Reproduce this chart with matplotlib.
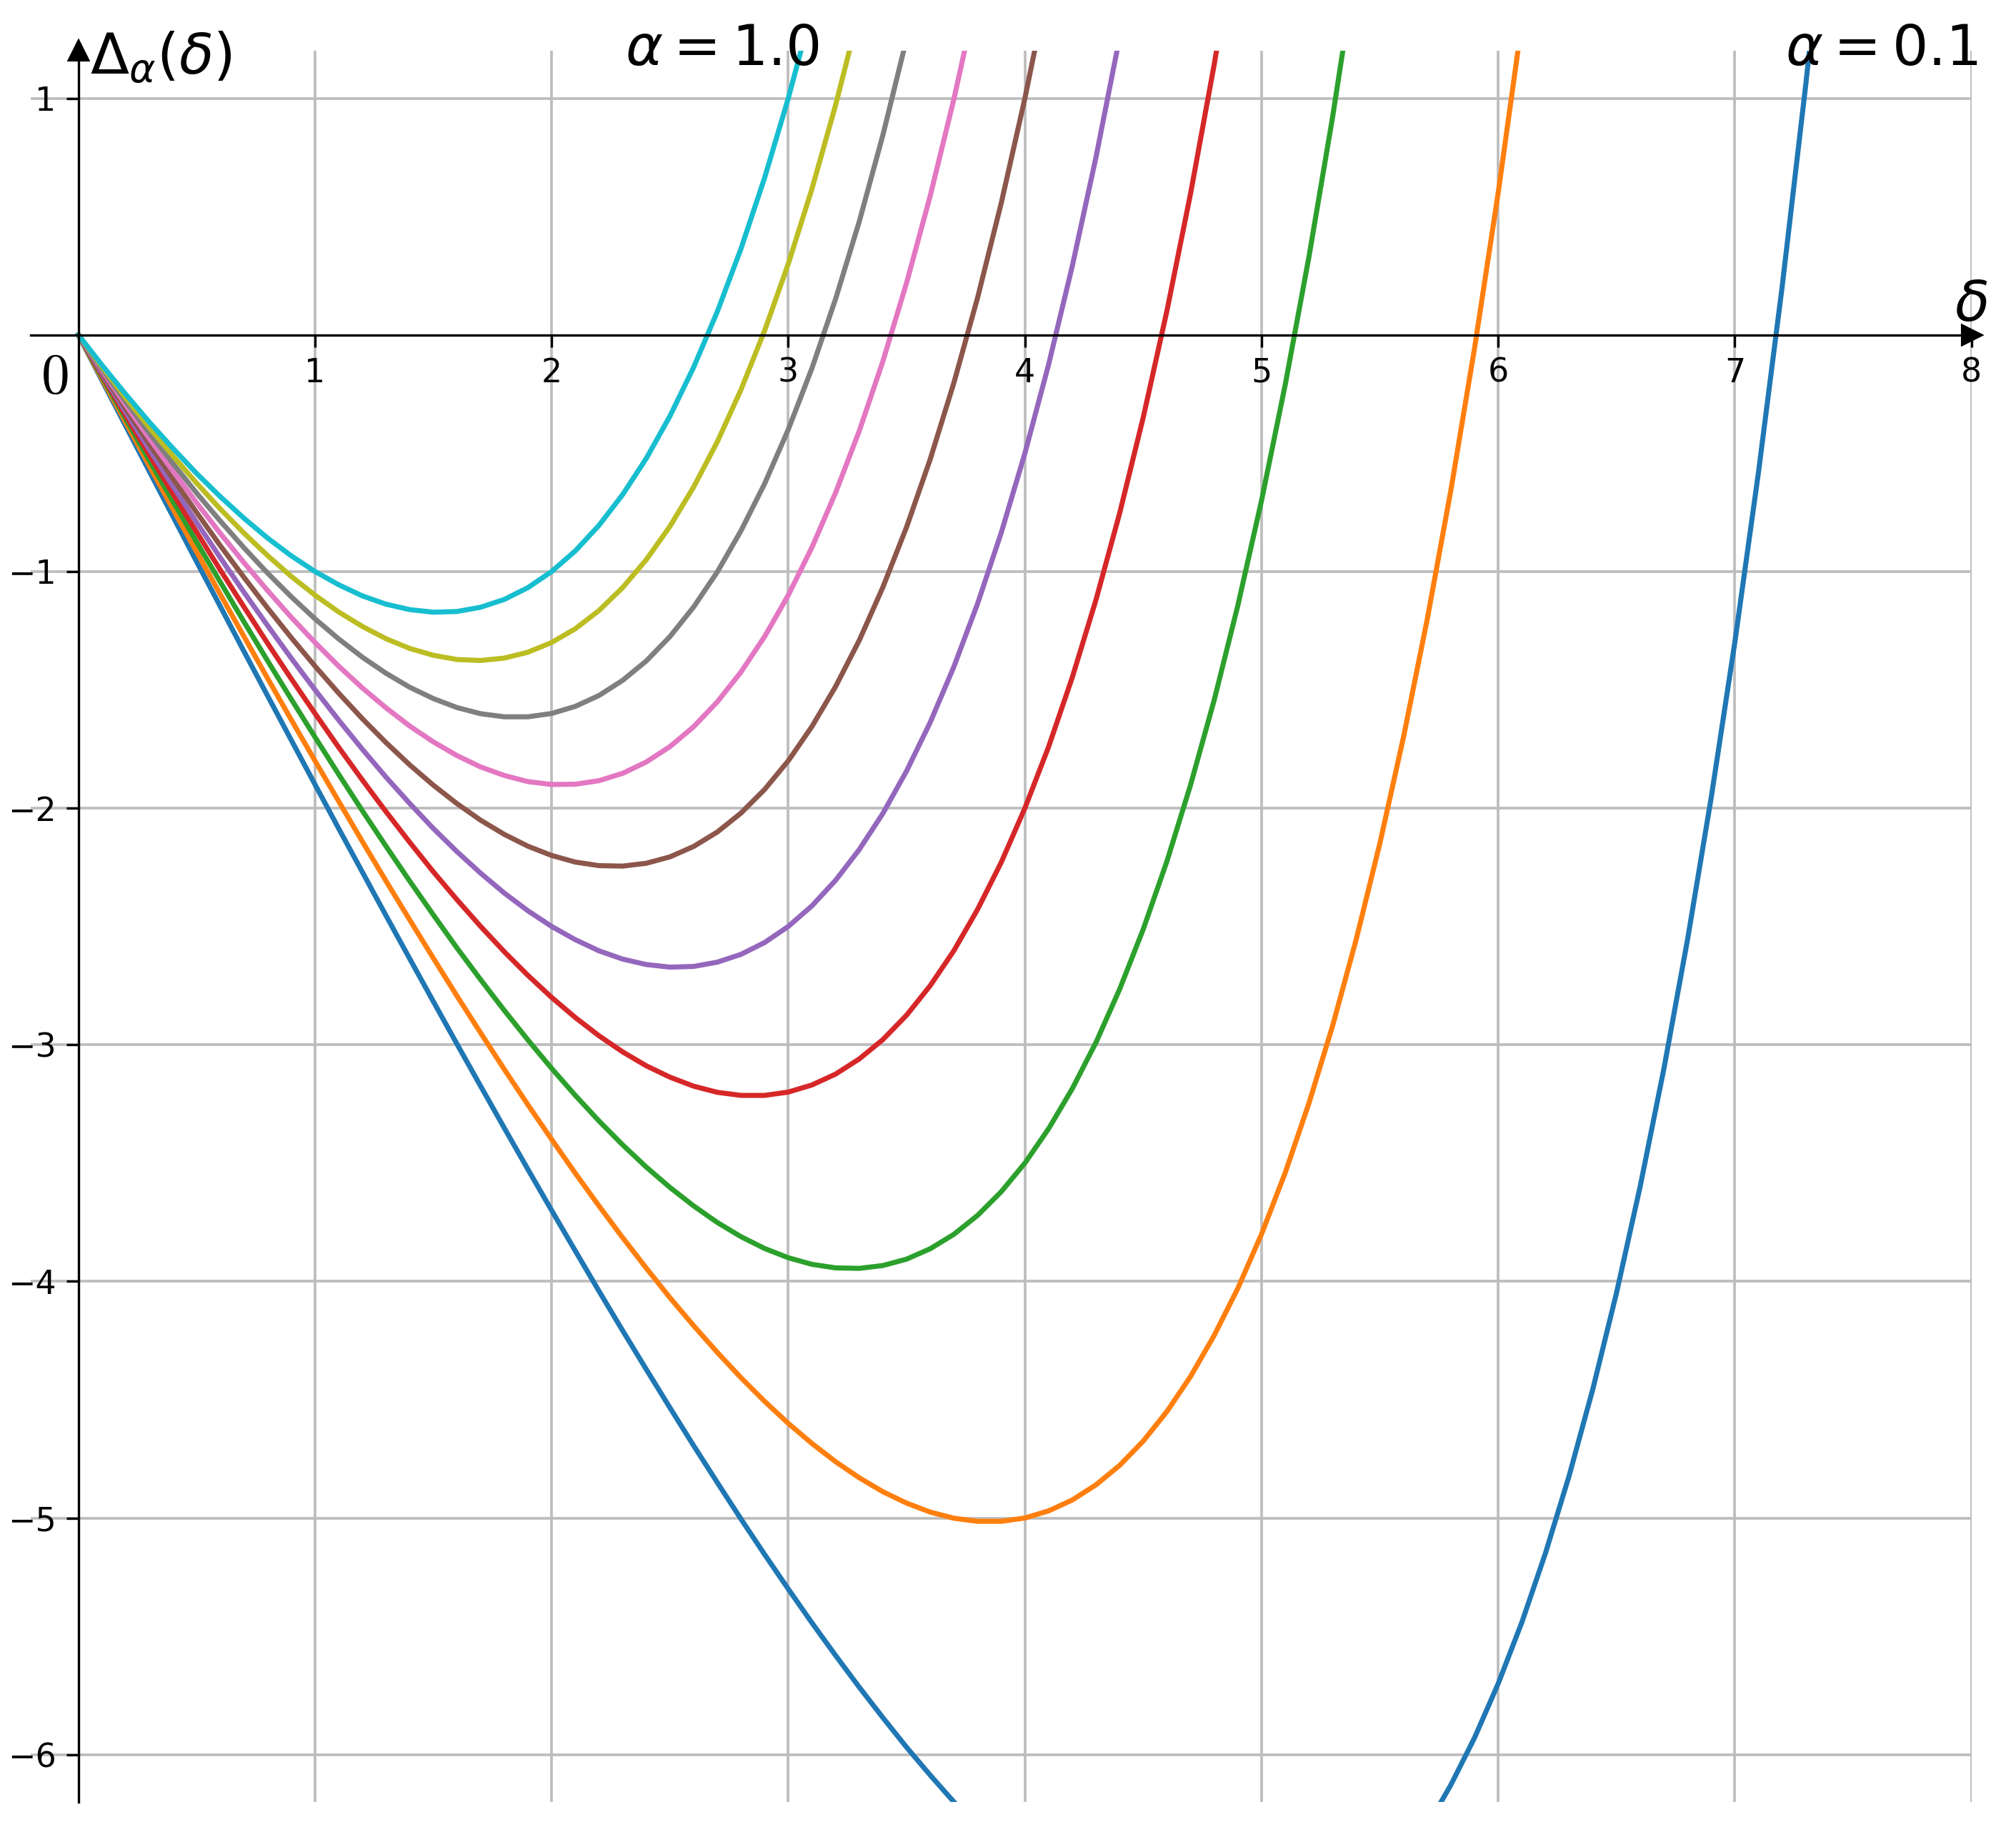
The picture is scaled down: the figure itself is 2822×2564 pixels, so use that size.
import matplotlib.pyplot as plt

# delta grid (x values) shared by all curves
delta = [0.0, 0.1, 0.2, 0.3, 0.4, 0.5, 0.6, 0.7, 0.8, 0.9,
         1.0, 1.1, 1.2, 1.3, 1.4, 1.5, 1.6, 1.7, 1.8, 1.9,
         2.0, 2.1, 2.2, 2.3, 2.4, 2.5, 2.6, 2.7, 2.8, 2.9,
         3.0, 3.1, 3.2, 3.3, 3.4, 3.5, 3.6, 3.7, 3.8, 3.9,
         4.0, 4.1, 4.2, 4.3, 4.4, 4.5, 4.6, 4.7, 4.8, 4.9,
         5.0, 5.1, 5.2, 5.3, 5.4, 5.5, 5.6, 5.7, 5.8, 5.9,
         6.0, 6.1, 6.2, 6.3, 6.4, 6.5, 6.6, 6.7, 6.8, 6.9,
         7.0, 7.1, 7.2, 7.3, 7.4]

# Delta_alpha(delta) values, one list per alpha
a01 = [0, -0.193, -0.385, -0.577, -0.768, -0.959, -1.148, -1.338, -1.526, -1.713,
       -1.900, -2.086, -2.270, -2.454, -2.636, -2.817, -2.997, -3.175, -3.352, -3.527,
       -3.700, -3.871, -4.041, -4.208, -4.372, -4.534, -4.694, -4.850, -5.004, -5.154,
       -5.300, -5.443, -5.581, -5.715, -5.844, -5.969, -6.087, -6.200, -6.307, -6.407,
       -6.500, -6.585, -6.662, -6.730, -6.789, -6.837, -6.875, -6.901, -6.914, -6.914,
       -6.900, -6.870, -6.824, -6.760, -6.678, -6.575, -6.450, -6.302, -6.128, -5.929,
       -5.700, -5.441, -5.148, -4.821, -4.455, -4.049, -3.599, -3.103, -2.557, -1.957,
       -1.300, -0.581, 0.203, 1.059, 1.990]
a02 = [0, -0.186, -0.370, -0.554, -0.736, -0.917, -1.097, -1.275, -1.452, -1.627,
       -1.800, -1.971, -2.141, -2.308, -2.472, -2.634, -2.794, -2.950, -3.104, -3.254,
       -3.400, -3.543, -3.681, -3.815, -3.944, -4.069, -4.187, -4.300, -4.407, -4.507,
       -4.600, -4.685, -4.762, -4.830, -4.889, -4.937, -4.975, -5.001, -5.014, -5.014,
       -5.000, -4.970, -4.924, -4.860, -4.778, -4.675, -4.550, -4.402, -4.228, -4.029,
       -3.800, -3.541, -3.248, -2.921, -2.555, -2.149, -1.699, -1.203, -0.657, -0.057,
       0.600, 1.319]
a03 = [0, -0.178, -0.355, -0.531, -0.704, -0.876, -1.045, -1.213, -1.378, -1.540,
       -1.700, -1.857, -2.011, -2.161, -2.308, -2.451, -2.591, -2.725, -2.855, -2.980,
       -3.100, -3.214, -3.322, -3.423, -3.517, -3.603, -3.681, -3.751, -3.811, -3.861,
       -3.900, -3.928, -3.943, -3.945, -3.933, -3.906, -3.862, -3.801, -3.721, -3.621,
       -3.500, -3.355, -3.186, -2.991, -2.766, -2.512, -2.225, -1.902, -1.543, -1.143,
       -0.700, -0.211, 0.328, 0.919, 1.567]
a04 = [0, -0.171, -0.341, -0.508, -0.672, -0.834, -0.994, -1.150, -1.304, -1.454,
       -1.600, -1.743, -1.881, -2.015, -2.144, -2.269, -2.387, -2.500, -2.607, -2.707,
       -2.800, -2.885, -2.962, -3.030, -3.089, -3.137, -3.175, -3.201, -3.214, -3.214,
       -3.200, -3.170, -3.124, -3.060, -2.978, -2.875, -2.750, -2.602, -2.428, -2.229,
       -2.000, -1.741, -1.448, -1.121, -0.755, -0.349, 0.101, 0.597, 1.143, 1.743]
a05 = [0, -0.164, -0.326, -0.484, -0.640, -0.793, -0.942, -1.088, -1.229, -1.367,
       -1.500, -1.628, -1.751, -1.869, -1.980, -2.086, -2.184, -2.275, -2.359, -2.434,
       -2.500, -2.556, -2.603, -2.638, -2.661, -2.672, -2.669, -2.651, -2.618, -2.568,
       -2.500, -2.413, -2.305, -2.175, -2.022, -1.843, -1.637, -1.402, -1.136, -0.836,
       -0.500, -0.126, 0.290, 0.749, 1.256]
a06 = [0, -0.157, -0.311, -0.461, -0.608, -0.751, -0.891, -1.025, -1.155, -1.280,
       -1.400, -1.514, -1.622, -1.723, -1.817, -1.903, -1.981, -2.051, -2.111, -2.161,
       -2.200, -2.228, -2.243, -2.245, -2.233, -2.206, -2.162, -2.101, -2.021, -1.921,
       -1.800, -1.655, -1.486, -1.291, -1.066, -0.812, -0.525, -0.202, 0.157, 0.557,
       1.000, 1.489]
a07 = [0, -0.150, -0.296, -0.438, -0.576, -0.710, -0.839, -0.963, -1.081, -1.194,
       -1.300, -1.400, -1.492, -1.576, -1.653, -1.720, -1.778, -1.826, -1.862, -1.888,
       -1.900, -1.899, -1.884, -1.853, -1.805, -1.740, -1.656, -1.551, -1.425, -1.275,
       -1.100, -0.898, -0.667, -0.406, -0.111, 0.220, 0.588, 0.997, 1.450]
a08 = [0, -0.143, -0.281, -0.415, -0.544, -0.669, -0.787, -0.900, -1.007, -1.107,
       -1.200, -1.285, -1.362, -1.430, -1.489, -1.537, -1.575, -1.601, -1.614, -1.614,
       -1.600, -1.570, -1.524, -1.460, -1.378, -1.275, -1.150, -1.002, -0.828, -0.629,
       -0.400, -0.141, 0.152, 0.479, 0.845, 1.251]
a09 = [0, -0.135, -0.266, -0.392, -0.512, -0.627, -0.736, -0.838, -0.933, -1.021,
       -1.100, -1.171, -1.232, -1.284, -1.325, -1.354, -1.372, -1.376, -1.366, -1.341,
       -1.300, -1.242, -1.165, -1.068, -0.950, -0.809, -0.643, -0.452, -0.232, 0.018,
       0.300, 0.617, 0.971, 1.364]
a10 = [0, -0.128, -0.251, -0.369, -0.480, -0.586, -0.684, -0.775, -0.859, -0.934,
       -1.000, -1.056, -1.103, -1.138, -1.161, -1.172, -1.169, -1.151, -1.118, -1.068,
       -1.000, -0.913, -0.805, -0.675, -0.522, -0.343, -0.137, 0.098, 0.364, 0.664,
       1.000, 1.374]

curves = [a01, a02, a03, a04, a05, a06, a07, a08, a09, a10]

xticks = [1, 2, 3, 4, 5, 6, 7, 8]
yticks = [-6, -5, -4, -3, -2, -1, 1]

fig = plt.figure(figsize=(2822 / 300, 2564 / 300), dpi=300)
ax = fig.add_axes([0.0154, 0.0164, 0.9625, 0.9558])

for vals in curves:
    ax.plot(delta[:len(vals)], vals, lw=1.7)

ax.set_xlim(-0.2, 8)
ax.set_ylim(-6.2, 1.2)

# axes through the origin with arrow heads
ax.spines['left'].set_position('zero')
ax.spines['bottom'].set_position('zero')
ax.spines['top'].set_visible(False)
ax.spines['right'].set_visible(False)
ax.plot(1, 0, '>k', ms=6.2, transform=ax.get_yaxis_transform(), clip_on=False)
ax.plot(0, 1, '^k', ms=6.2, transform=ax.get_xaxis_transform(), clip_on=False)

ax.set_xticks(xticks)
ax.set_yticks(yticks)
ax.tick_params(labelsize=11, length=4)
ax.grid(True, color='#bdbdbd', lw=0.9)

ax.text(-0.1, -0.18, '$0$', math_fontfamily='cm', fontsize=19, ha='center', va='center')
ax.text(0.05, 1.10, r'$\Delta_\alpha(\delta)$', fontsize=19, ha='left', va='baseline')
ax.text(8.0, 0.06, r'$\delta$', fontsize=19, ha='center', va='baseline')
ax.text(2.72, 1.14, r'$\alpha = 1.0$', fontsize=19, ha='center', va='baseline')
ax.text(7.62, 1.14, r'$\alpha = 0.1$', fontsize=19, ha='center', va='baseline')

fig.savefig('out.png', dpi=300)
